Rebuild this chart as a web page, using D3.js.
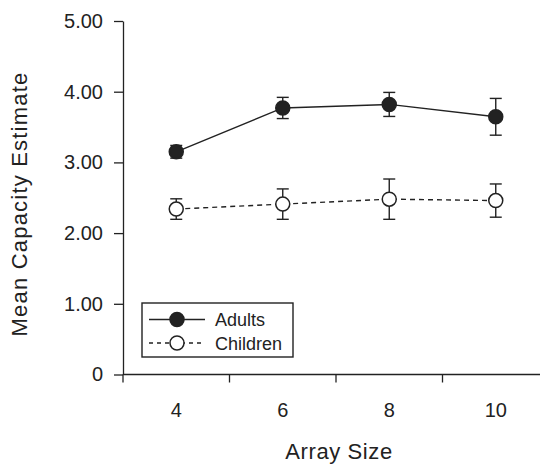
<!DOCTYPE html>
<html>
<head>
<meta charset="utf-8">
<script src="https://cdn.jsdelivr.net/npm/d3@7"></script>
<style>
body{margin:0;background:#fff;}
svg{display:block;}
text{font-family:"Liberation Sans",Arial,Helvetica,sans-serif;fill:#222;}
</style>
</head>
<body>
<svg id="chart" width="547" height="464"></svg>
<script>
const arraySizes = [4, 6, 8, 10];
const adultMeans = [3.15, 3.77, 3.82, 3.645];
const adultErrors = [0.09, 0.15, 0.17, 0.26];
const childMeans = [2.34, 2.41, 2.48, 2.46];
const childErrors = [0.145, 0.215, 0.285, 0.235];
const yTicks = [0, 1, 2, 3, 4, 5];
const yTickLabels = ["0", "1.00", "2.00", "3.00", "4.00", "5.00"];
const xBoundaryTicks = [3, 5, 7, 9];
const seriesNames = ["Adults", "Children"];

const svg = d3.select("#chart");
const ink = "#222";

const x = d3.scaleLinear().domain([3, 11]).range([123, 549]);
const y = d3.scaleLinear().domain([0, 5]).range([374.5, 21]);

// Y axis
const yAxis = d3.axisLeft(y).tickValues(yTicks)
  .tickFormat((d, i) => yTickLabels[i]).tickSize(9).tickPadding(11).tickSizeOuter(0);
const gy = svg.append("g").attr("transform", "translate(123,0)").call(yAxis);
gy.select(".domain").attr("stroke", ink).attr("stroke-width", 1.3);
gy.selectAll(".tick line").attr("stroke", ink).attr("stroke-width", 1.3);
gy.selectAll(".tick text").attr("font-size", 20).attr("fill", ink)
  .style("font-family", '"Liberation Sans",Arial,sans-serif');

// X axis line
svg.append("line").attr("x1", x(3)).attr("x2", 540).attr("y1", y(0)).attr("y2", y(0))
  .attr("stroke", ink).attr("stroke-width", 1.3);
// boundary ticks
svg.selectAll(".xt").data(xBoundaryTicks).enter().append("line")
  .attr("x1", d => x(d)).attr("x2", d => x(d))
  .attr("y1", y(0)).attr("y2", y(0) + 8)
  .attr("stroke", ink).attr("stroke-width", 1.3);
// labels
svg.selectAll(".xl").data(arraySizes).enter().append("text")
  .attr("x", d => x(d)).attr("y", 417).attr("text-anchor", "middle")
  .attr("font-size", 20).text(d => d);

// Axis titles
svg.append("text").attr("x", 339).attr("y", 459).attr("text-anchor", "middle")
  .attr("font-size", 22).attr("letter-spacing", 0.6).text("Array Size");
svg.append("text").attr("transform", "translate(27,204) rotate(-90)")
  .attr("text-anchor", "middle").attr("font-size", 22).attr("letter-spacing", 1.2)
  .text("Mean Capacity Estimate");

// series
function drawSeries(means, errs, filled, dashed) {
  const data = arraySizes.map((s, i) => ({s, m: means[i], e: errs[i]}));
  const line = d3.line().x(d => x(d.s)).y(d => y(d.m));
  svg.append("path").datum(data).attr("d", line).attr("fill", "none")
    .attr("stroke", ink).attr("stroke-width", 1.4)
    .attr("stroke-dasharray", dashed ? "5,4" : null);
  const g = svg.append("g");
  const eb = g.selectAll("g").data(data).enter().append("g").attr("stroke", ink).attr("stroke-width", 1.4);
  eb.append("line").attr("x1", d => x(d.s)).attr("x2", d => x(d.s))
    .attr("y1", d => y(d.m + d.e)).attr("y2", d => y(d.m - d.e));
  eb.append("line").attr("x1", d => x(d.s) - 6).attr("x2", d => x(d.s) + 6)
    .attr("y1", d => y(d.m + d.e)).attr("y2", d => y(d.m + d.e));
  eb.append("line").attr("x1", d => x(d.s) - 6).attr("x2", d => x(d.s) + 6)
    .attr("y1", d => y(d.m - d.e)).attr("y2", d => y(d.m - d.e));
  svg.append("g").selectAll("circle").data(data).enter().append("circle")
    .attr("cx", d => x(d.s)).attr("cy", d => y(d.m)).attr("r", 7)
    .attr("fill", filled ? ink : "#fff").attr("stroke", ink).attr("stroke-width", 1.5);
}
drawSeries(childMeans, childErrors, false, true);
drawSeries(adultMeans, adultErrors, true, false);

// Legend
const lg = svg.append("g");
lg.append("rect").attr("x", 142).attr("y", 303).attr("width", 151).attr("height", 54)
  .attr("fill", "#fff").attr("stroke", ink).attr("stroke-width", 1.4);
seriesNames.forEach((name, i) => {
  const yy = 319.5 + i * 23.5;
  lg.append("line").attr("x1", 149).attr("x2", 205).attr("y1", yy).attr("y2", yy)
    .attr("stroke", ink).attr("stroke-width", 1.3)
    .attr("stroke-dasharray", i === 1 ? "4,4" : null);
  lg.append("circle").attr("cx", 177).attr("cy", yy).attr("r", 7)
    .attr("fill", i === 0 ? ink : "#fff").attr("stroke", ink).attr("stroke-width", 1.5);
  lg.append("text").attr("x", 215).attr("y", yy + 6.5).attr("font-size", 18).text(name);
});
</script>
</body>
</html>
